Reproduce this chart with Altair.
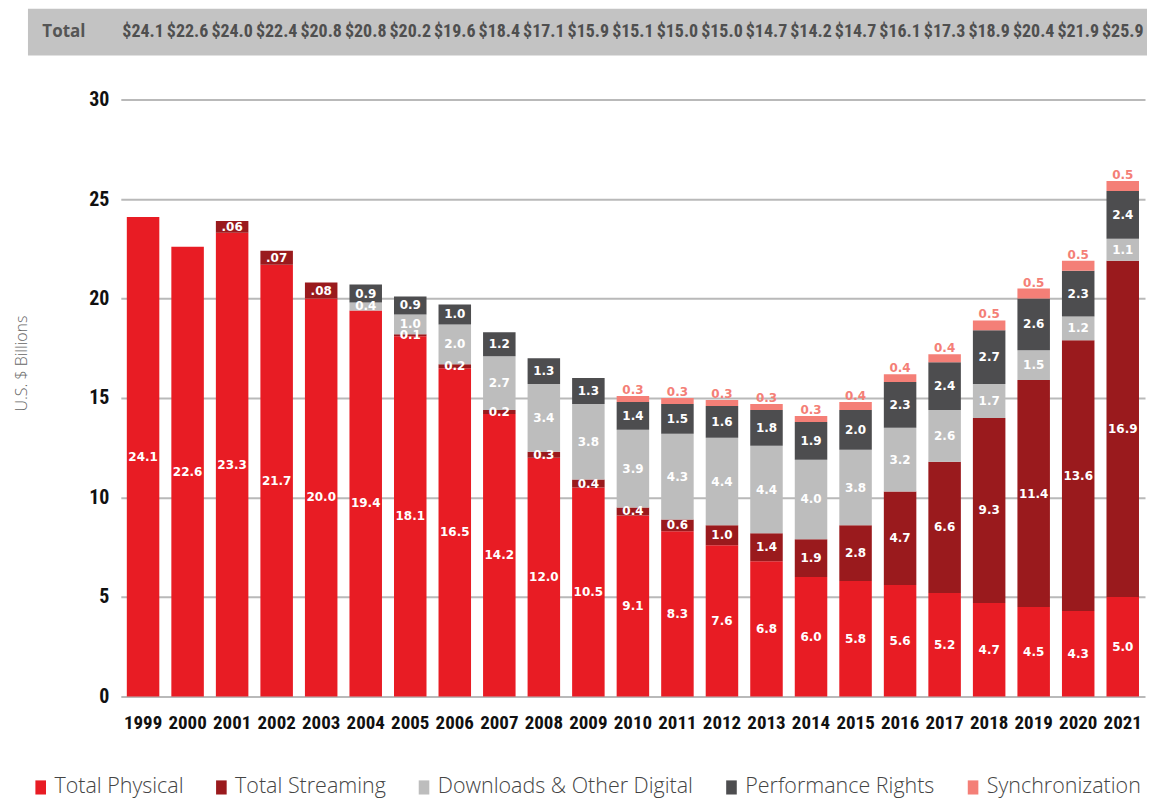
import altair as alt
import pandas as pd

years = [str(y) for y in range(1999, 2022)]
physical = [24.1, 22.6, 23.3, 21.7, 20.0, 19.4, 18.1, 16.5, 14.2, 12.0, 10.5, 9.1,
            8.3, 7.6, 6.8, 6.0, 5.8, 5.6, 5.2, 4.7, 4.5, 4.3, 5.0]
streaming = [0, 0, 0.6, 0.7, 0.8, 0, 0.1, 0.2, 0.2, 0.3, 0.4, 0.4,
             0.6, 1.0, 1.4, 1.9, 2.8, 4.7, 6.6, 9.3, 11.4, 13.6, 16.9]
downloads = [0, 0, 0, 0, 0, 0.4, 1.0, 2.0, 2.7, 3.4, 3.8, 3.9,
             4.3, 4.4, 4.4, 4.0, 3.8, 3.2, 2.6, 1.7, 1.5, 1.2, 1.1]
performance = [0, 0, 0, 0, 0, 0.9, 0.9, 1.0, 1.2, 1.3, 1.3, 1.4,
               1.5, 1.6, 1.8, 1.9, 2.0, 2.3, 2.4, 2.7, 2.6, 2.3, 2.4]
sync = [0, 0, 0, 0, 0, 0, 0, 0, 0, 0, 0, 0.3,
        0.3, 0.3, 0.3, 0.3, 0.4, 0.4, 0.4, 0.5, 0.5, 0.5, 0.5]
totals = [24.1, 22.6, 24.0, 22.4, 20.8, 20.8, 20.2, 19.6, 18.4, 17.1, 15.9, 15.1,
          15.0, 15.0, 14.7, 14.2, 14.7, 16.1, 17.3, 18.9, 20.4, 21.9, 25.9]
# labels printed on the early streaming segments
streaming_label_override = {"2001": ".06", "2002": ".07", "2003": ".08"}

categories = ["Total Physical", "Total Streaming", "Downloads & Other Digital",
              "Performance Rights", "Synchronization"]
colors = ["#e81c24", "#9a1a1d", "#bdbdbd", "#4d4d4f", "#f47f77"]
series = [physical, streaming, downloads, performance, sync]

rows = []
for ci, (cat, vals) in enumerate(zip(categories, series)):
    for y, v in zip(years, vals):
        lab = f"{v:.1f}"
        if cat == "Total Streaming" and y in streaming_label_override:
            lab = streaming_label_override[y]
        rows.append({"year": y, "category": cat, "order": ci, "value": v, "label": lab})
df = pd.DataFrame(rows)
hdr = pd.DataFrame({"year": years, "total": totals})

W, H = 1026, 598
COND = "'Roboto Condensed', 'DejaVu Sans Condensed', 'Liberation Sans Narrow', 'Arial Narrow', Roboto, sans-serif"

xscale = alt.Scale(domain=years, paddingInner=0.27, paddingOuter=0.135)
xaxis = alt.Axis(title=None, labelAngle=0, ticks=False, domain=False, grid=False,
                 labelFont=COND, labelFontWeight="bold", labelFontSize=19,
                 labelColor="#111", labelPadding=17)
yscale = alt.Scale(domain=[0, 30], nice=False)
yaxis = alt.Axis(title="U.S. $ Billions", values=[0, 5, 10, 15, 20, 25, 30],
                 ticks=False, domain=False, grid=True, gridColor="#b9b9b9", gridWidth=2,
                 labelFont=COND, labelFontWeight="bold", labelFontSize=20,
                 labelColor="#111", labelPadding=12,
                 titleFont="'Open Sans', Lato", titleFontWeight=300, titleFontSize=16,
                 titleColor="#666", titleX=-91, titleY=264)

base = alt.Chart(df).transform_stack(
    stack="value", groupby=["year"],
    sort=[alt.SortField("order", order="ascending")], as_=["v0", "v1"]
).transform_calculate(mid="(datum.v0 + datum.v1) / 2")

bars = base.mark_bar().encode(
    x=alt.X("year:N", scale=xscale, axis=xaxis),
    y=alt.Y("v0:Q", scale=yscale, axis=yaxis),
    y2="v1:Q",
    color=alt.Color("category:N",
                    scale=alt.Scale(domain=categories, range=colors),
                    legend=alt.Legend(title=None, orient="none", direction="horizontal",
                                      legendX=-91, legendY=678,
                                      symbolType="M-0.75,-1H0.75V1H-0.75Z",
                                      symbolSize=200,
                                      symbolStrokeWidth=0,
                                      labelFont="'Open Sans', Lato",
                                      labelFontWeight=300, labelFontSize=21.5,
                                      labelColor="#444", labelOffset=3,
                                      labelLimit=400, columnPadding=27)),
)

seg_labels = base.transform_filter(
    "datum.value > 0 && datum.category != 'Synchronization'"
).mark_text(font="DejaVu Sans", fontWeight="bold", fontSize=12, color="white",
            baseline="middle").encode(
    x=alt.X("year:N", scale=xscale, axis=xaxis),
    y=alt.Y("mid:Q", scale=yscale, axis=yaxis),
    text="label:N",
)

sync_labels = base.transform_filter(
    "datum.value > 0 && datum.category == 'Synchronization'"
).mark_text(font="DejaVu Sans", fontWeight="bold", fontSize=12, color="#f47f77",
            baseline="alphabetic", dy=-2).encode(
    x=alt.X("year:N", scale=xscale, axis=xaxis),
    y=alt.Y("v1:Q", scale=yscale, axis=yaxis),
    text="label:N",
)

band = alt.Chart(pd.DataFrame({"k": [0]})).mark_rect(color="#c3c3c3").encode(
    x=alt.value(-93), x2=alt.value(W + 2), y=alt.value(-91), y2=alt.value(-44)
)

hdr_text = alt.Chart(hdr).transform_calculate(
    t="'$' + format(datum.total, '.1f')"
).mark_text(font=COND, fontWeight="bold", fontSize=18, color="#4f4f4f",
            baseline="middle").encode(
    x=alt.X("year:N", scale=xscale, axis=xaxis),
    y=alt.value(-68),
    text="t:N",
)

total_word = alt.Chart(pd.DataFrame({"k": [0]})).mark_text(
    font="'Open Sans'", fontWeight="bold", fontSize=17, color="#555",
    baseline="middle", align="center"
).encode(x=alt.value(-57), y=alt.value(-68), text=alt.value("Total"))

chart = alt.layer(band, bars, seg_labels, sync_labels, hdr_text, total_word).properties(
    width=W, height=H,
    padding={"left": 6, "top": 0, "right": 0, "bottom": 0},
    background="white",
).configure_view(stroke=None)

chart.save("out.html", embed_options={"renderer": "svg", "actions": False})
